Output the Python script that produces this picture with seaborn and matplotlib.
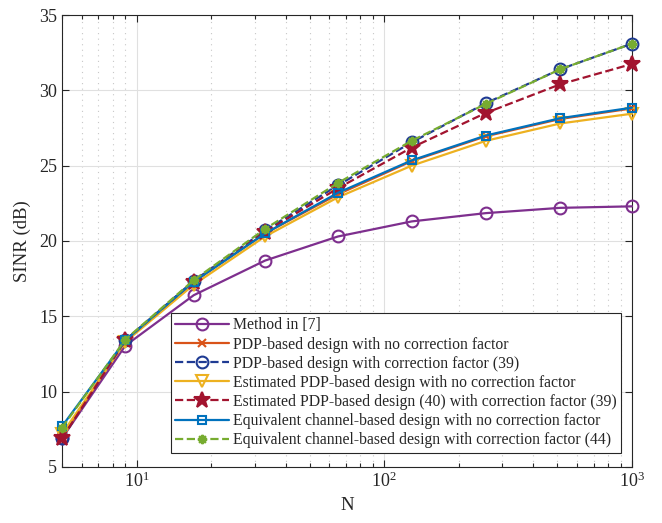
import matplotlib
matplotlib.use('Agg')
import matplotlib.pyplot as plt
import numpy as np
import seaborn as sns
from matplotlib.ticker import LogLocator, NullFormatter

# x positions (number of antennas N)
n_vals = [5, 9, 17, 33, 65, 129, 257, 513, 1000]

sinr_method7 = [6.9, 13.05, 16.4, 18.7, 20.3, 21.3, 21.85, 22.2, 22.3]
sinr_pdp_nocorr = [7.0, 13.4, 17.3, 20.5, 23.1, 25.3, 26.95, 28.1, 28.8]
sinr_pdp_corr = [6.9, 13.4, 17.35, 20.7, 23.7, 26.55, 29.15, 31.4, 33.1]
sinr_est_nocorr = [7.2, 13.3, 17.1, 20.3, 22.9, 25.0, 26.65, 27.8, 28.45]
sinr_est_corr = [6.9, 13.4, 17.3, 20.6, 23.5, 26.2, 28.5, 30.4, 31.75]
sinr_eq_nocorr = [7.7, 13.4, 17.3, 20.5, 23.2, 25.35, 27.0, 28.15, 28.85]
sinr_eq_corr = [7.6, 13.45, 17.4, 20.8, 23.85, 26.65, 29.1, 31.4, 33.1]

labels = [
    'Method in [7]',
    'PDP-based design with no correction factor',
    'PDP-based design with correction factor (39)',
    'Estimated PDP-based design with no correction factor',
    'Estimated PDP-based design (40) with correction factor (39)',
    'Equivalent channel-based design with no correction factor',
    'Equivalent channel-based design with correction factor (44)',
]

series = [sinr_method7, sinr_pdp_nocorr, sinr_pdp_corr, sinr_est_nocorr,
          sinr_est_corr, sinr_eq_nocorr, sinr_eq_corr]

styles = [
    dict(color='#7E2F8E', marker='o', ms=8.5, mfc='none', ls='-'),
    dict(color='#D95319', marker='x', ms=5.5, mfc='none', ls='-'),
    dict(color='#1F3B93', marker='o', ms=8.5, mfc='none', ls='--'),
    dict(color='#EDB120', marker='v', ms=8.5, mfc='none', ls='-'),
    dict(color='#A2142F', marker='*', ms=12, mfc='#A2142F', ls='--'),
    dict(color='#0072BD', marker='s', ms=6, mfc='none', ls='-'),
    dict(color='#77AC30', marker=(8, 1, 0), ms=6.5, mfc='#77AC30', ls='--'),
]

sns.set_theme(style='ticks')
plt.rcParams['font.family'] = ['Liberation Serif', 'DejaVu Serif']
plt.rcParams['mathtext.fontset'] = 'stix'

fig, ax = plt.subplots(figsize=(6.62, 5.23), dpi=100)
fig.subplots_adjust(left=0.0937, right=0.9547, top=0.9713, bottom=0.1071)

for vals, lab, st in zip(series, labels, styles):
    sns.lineplot(x=n_vals, y=vals, ax=ax, label=lab, color=st['color'],
                 marker=st['marker'], markersize=st['ms'],
                 markerfacecolor=st['mfc'], markeredgecolor=st['color'],
                 markeredgewidth=1.5, linestyle=st['ls'], linewidth=1.6,
                 dashes=(4.5, 3) if st['ls'] == '--' else (None, None),
                 clip_on=False, zorder=3)

ax.set_xscale('log')
ax.set_xlim(5, 1000)
ax.set_ylim(5, 35)
ax.set_yticks(np.arange(5, 36, 5))
ax.xaxis.set_minor_locator(LogLocator(base=10, subs=np.arange(2, 10)))
ax.xaxis.set_minor_formatter(NullFormatter())

ax.grid(True, which='major', color='#e0e0e0', linewidth=0.8, linestyle='-')
ax.grid(True, which='minor', axis='x', color='#c8c8c8', linewidth=0.8, linestyle=(0, (1, 4)))
ax.set_axisbelow(True)

ax.tick_params(which='both', direction='in', top=True, right=True, labelsize=13,
               color='#262626', width=0.8)
ax.tick_params(which='major', length=5)
ax.tick_params(which='minor', length=3)
for sp in ax.spines.values():
    sp.set_color('#262626')
    sp.set_linewidth(0.8)

ax.set_xlabel('N', fontsize=13.5, labelpad=4)
ax.set_ylabel('SINR (dB)', fontsize=13.5, labelpad=6)

leg = ax.legend(loc='lower right', bbox_to_anchor=(0.981, 0.031), fontsize=11.3,
                handlelength=3.4, handletextpad=0.25, labelspacing=0.2,
                borderpad=0.3, frameon=True, fancybox=False, framealpha=1,
                edgecolor='#262626', borderaxespad=0)
leg.get_frame().set_linewidth(0.8)
leg.set_zorder(10)

fig.savefig('out.png', dpi=100)
